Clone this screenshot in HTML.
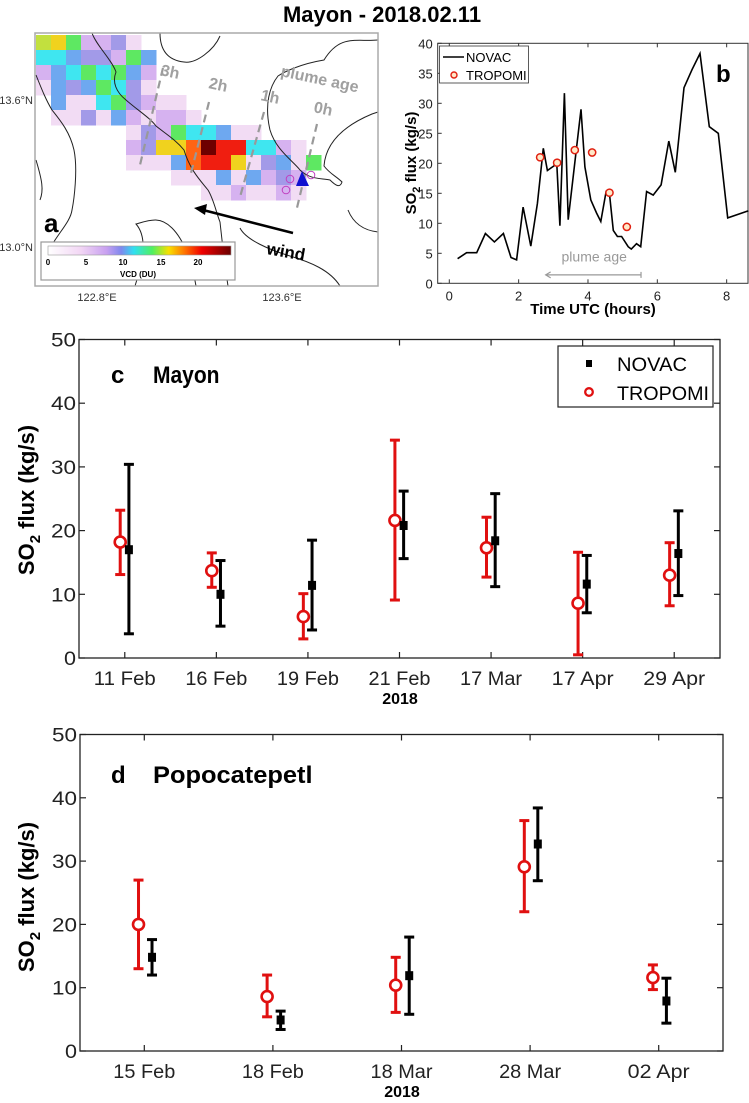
<!DOCTYPE html>
<html><head><meta charset="utf-8"><title>Mayon SO2 flux</title>
<style>
html,body{margin:0;padding:0;background:#fff;}
svg{display:block;font-family:"Liberation Sans",Arial,sans-serif;}
</style></head>
<body>
<svg id="fig" xmlns="http://www.w3.org/2000/svg" width="749" height="1103" viewBox="0 0 749 1103">
  <text x="382" y="22" text-anchor="middle" font-size="22" font-weight="bold">Mayon - 2018.02.11</text>

  <!-- Panel a map -->
  <g id="panelA">
    <rect x="35" y="33" width="343" height="253" fill="#fff"/>
    <g id="cells"></g>
    <g fill="none" stroke="#222" stroke-width="1">
      <path d="M92,33 C96,45 112,60 116,72 C112,82 116,92 126,100 C140,112 150,118 156,126 C166,134 176,140 184,150 C190,170 200,180 208,190 C214,200 216,212 220,222 C222,240 224,260 228,286"/>
      <path d="M36,75 C42,90 46,100 52,110 C60,120 70,132 74,150 C78,170 74,200 72,210 C70,225 50,240 46,260"/>
      <path d="M36,160 C42,180 44,190 40,200"/>
      <path d="M160,33 C160,48 166,60 184,62 C196,64 214,50 220,36"/>
      <path d="M378,40 C356,42 340,34 324,60 C300,64 284,72 278,76 C270,86 264,104 270,130 C276,150 292,160 300,170 C310,180 322,178 330,180 C336,186 340,188 342,182 C336,176 330,174 324,166 C326,140 348,124 372,114 L378,112"/>
      <path d="M135,286 C140,270 150,240 136,224 C150,220 160,216 172,228 C184,240 192,262 196,286"/>
      <path d="M240,228 C246,240 270,250 290,256 C310,262 330,270 340,286"/>
      <path d="M348,210 C352,220 360,230 378,232"/>
    </g>
    <g stroke="#999" stroke-width="2.2" stroke-dasharray="8,5" fill="none">
      <line x1="163" y1="68" x2="140" y2="165"/>
      <line x1="209" y1="102" x2="190" y2="177"/>
      <line x1="264" y1="112" x2="240" y2="197"/>
      <line x1="317" y1="124" x2="296" y2="212"/>
    </g>
    <g fill="#a0a0a0" font-weight="bold" font-size="16">
      <text x="160" y="75" transform="rotate(12 160 75)">3h</text>
      <text x="208" y="88" transform="rotate(12 208 88)">2h</text>
      <text x="260" y="100" transform="rotate(12 260 100)">1h</text>
      <text x="280" y="76" transform="rotate(12 280 76)">plume age</text>
      <text x="313" y="112" transform="rotate(12 313 112)">0h</text>
    </g>
    <g fill="none" stroke="#c040c0" stroke-width="1">
      <circle cx="290" cy="179" r="3.8"/><circle cx="311" cy="175" r="3.8"/><circle cx="286" cy="190" r="3.8"/>
    </g>
    <polygon points="302,171 296,186 309,186" fill="#1010d0"/>
    <line x1="293" y1="233" x2="203" y2="210" stroke="#000" stroke-width="2.5"/>
    <polygon points="194,208 207,204 205,215" fill="#000"/>
    <text x="266" y="254" font-size="17" font-weight="bold" transform="rotate(10 266 254)">wind</text>
    <text x="44" y="232" font-size="26" font-weight="bold">a</text>
    <g>
      <defs>
        <linearGradient id="jet" x1="0" x2="1" y1="0" y2="0">
          <stop offset="0" stop-color="#ffffff"/><stop offset="0.18" stop-color="#f2d6f4"/>
          <stop offset="0.32" stop-color="#c8a0f0"/><stop offset="0.4" stop-color="#7f88ee"/>
          <stop offset="0.47" stop-color="#30e0f0"/><stop offset="0.57" stop-color="#50f060"/>
          <stop offset="0.66" stop-color="#f8e000"/><stop offset="0.75" stop-color="#ff7000"/>
          <stop offset="0.84" stop-color="#f00000"/><stop offset="1" stop-color="#6a0000"/>
        </linearGradient>
      </defs>
      <rect x="41" y="242" width="194" height="38" fill="#fff" stroke="#999" stroke-width="1.2"/>
      <rect x="48" y="246" width="183" height="9" fill="url(#jet)" stroke="#999" stroke-width="0.6"/>
      <g font-size="8" font-weight="bold" text-anchor="middle">
        <text x="48" y="265">0</text><text x="86" y="265">5</text><text x="123" y="265">10</text><text x="161" y="265">15</text><text x="198" y="265">20</text>
        <text x="138" y="277">VCD (DU)</text>
      </g>
    </g>
    <rect x="35" y="33" width="343" height="253" fill="none" stroke="#aaa" stroke-width="1.5"/>
    <g font-size="11" fill="#333">
      <text x="33" y="104" text-anchor="end">13.6°N</text>
      <text x="33" y="251" text-anchor="end">13.0°N</text>
      <text x="97" y="301" text-anchor="middle">122.8°E</text>
      <text x="282" y="301" text-anchor="middle">123.6°E</text>
    </g>
  </g>

  <!-- Panel b -->
  <g id="panelB"></g>
  <!-- Panel c -->
  <g id="panelC"></g>
  <!-- Panel d -->
  <g id="panelD"></g>
</svg>
<script>
// ---------- Panel a pixel data ----------
const mapRows = [
  "Yygllvp...........",
  "ccbvvlgb..........",
  "lbcgcgbl..........",
  "pbvbgcvp..........",
  ".bppcgvlpp........",
  ".ppvpblpllp.......",
  "......pvlgccbpp...",
  "......lvyyodrrcclp",
  "......pppborrypvbpg",
  ".........pppbpblvl",
  "...........pplpplp"
];
const mapColors = {p:"#f2dcf4",l:"#d6b2f0",v:"#a29ae8",b:"#6ea8f0",c:"#3fe6f0",g:"#5ee862",y:"#f0d21e",Y:"#c2e03e",o:"#ff6414",r:"#f01e10",d:"#6e0000"};
// ---------- Panel b data ----------
const novacHours = [0.24,0.5,0.79,1.04,1.3,1.56,1.78,1.94,2.13,2.35,2.54,2.71,2.83,3.1,3.19,3.32,3.43,3.8,3.91,4.08,4.25,4.37,4.52,4.63,4.73,4.85,4.97,5.16,5.25,5.4,5.52,5.69,5.88,6.11,6.33,6.52,6.77,7.0,7.23,7.5,7.76,8.03,8.63];
const novacFlux = [4.1,5.1,5.1,8.3,6.9,8.3,4.3,3.9,12.7,6.2,13.3,22.5,18.8,19.9,9.6,31.7,10.6,29.0,19.4,13.9,11.7,10.3,15.2,14.4,8.8,7.8,7.8,6.1,5.7,6.6,6.1,15.3,14.7,16.4,23.7,18.5,32.6,35.6,38.3,26.1,25.0,10.9,12.1];
const tropHours = [2.62,3.11,3.62,4.12,4.62,5.12];
const tropFlux = [21.0,20.1,22.2,21.8,15.1,9.4];
const bXTicks = [0,2,4,6,8];
const bYTicks = [0,5,10,15,20,25,30,35,40];
// ---------- Panel c data ----------
const cCats = ["11 Feb","16 Feb","19 Feb","21 Feb","17 Mar","17 Apr","29 Apr"];
const cTrop = [18.2,13.7,6.5,21.6,17.3,8.6,13.0];
const cTropLo = [13.1,11.1,3.0,9.1,12.7,0.5,8.2];
const cTropHi = [23.2,16.5,10.1,34.2,22.1,16.6,18.1];
const cNov = [17.0,10.0,11.4,20.8,18.4,11.6,16.4];
const cNovLo = [3.8,5.0,4.4,15.6,11.2,7.1,9.8];
const cNovHi = [30.4,15.3,18.5,26.2,25.8,16.1,23.1];
// ---------- Panel d data ----------
const dCats = ["15 Feb","18 Feb","18 Mar","28 Mar","02 Apr"];
const dTrop = [20.0,8.6,10.4,29.1,11.6];
const dTropLo = [13.0,5.4,6.1,22.0,9.7];
const dTropHi = [27.0,12.0,14.8,36.4,13.6];
const dNov = [14.8,4.9,11.9,32.7,7.9];
const dNovLo = [12.0,3.4,5.8,26.9,4.4];
const dNovHi = [17.6,6.3,18.0,38.4,11.5];
const yTicks = [0,10,20,30,40,50];

const NS = "http://www.w3.org/2000/svg";
function mk(parent, tag, attrs, text) {
  const e = document.createElementNS(NS, tag);
  for (const k in attrs) e.setAttribute(k, attrs[k]);
  if (text !== undefined) e.textContent = text;
  parent.appendChild(e);
  return e;
}

// Panel a cells
(function(){
  const g = document.getElementById("cells");
  mapRows.forEach((row, r) => {
    for (let c = 0; c < row.length; c++) {
      const ch = row[c];
      if (!mapColors[ch]) continue;
      const x = 36 + c * 15, y = 35 + r * 15;
      if (x > 377) continue;
      const el = mk(g, "rect", {x: x, y: y, width: 15.5, height: 15.5, fill: mapColors[ch]});
      
      
    }
  });
})();

// Panel b
(function(){
  const g = document.getElementById("panelB");
  const L = 437.7, R = 748, T = 43.3, B = 283.3;
  const xB = h => 449.3 + h * 34.67;
  const yB = v => B - v * (B - T) / 40;
  const frame = mk(g, "rect", {x: L, y: T, width: R - L, height: B - T, fill: "#fff", stroke: "#333", "stroke-width": 1});
  
  
  bXTicks.forEach(t => {
    const x = xB(t);
    mk(g, "line", {x1: x, y1: B, x2: x, y2: B - 4, stroke: "#333"});
    mk(g, "line", {x1: x, y1: T, x2: x, y2: T + 4, stroke: "#333"});
    const tl = mk(g, "text", {x: x, y: B + 17, "font-size": 13, "text-anchor": "middle", fill: "#222"}, String(t));
    
    
  });
  bYTicks.forEach(t => {
    const y = yB(t);
    mk(g, "line", {x1: L, y1: y, x2: L + 4, y2: y, stroke: "#333"});
    const tl = mk(g, "text", {x: L - 5, y: y + 5, "font-size": 13, "text-anchor": "end", fill: "#222"}, String(t));
    
    
  });
  const pts = novacHours.map((h, i) => xB(h).toFixed(1) + "," + yB(novacFlux[i]).toFixed(1)).join(" ");
  const line = mk(g, "polyline", {points: pts, fill: "none", stroke: "#000", "stroke-width": 1.6});
  
  
  tropHours.forEach((h, i) => {
    const c = mk(g, "circle", {cx: xB(h), cy: yB(tropFlux[i]), r: 3.6, fill: "#ffe8c8", stroke: "#e02010", "stroke-width": 1.5});
    
    
  });
  // plume age arrow
  const ay = yB(1.4);
  const ar = mk(g, "line", {x1: xB(2.78), y1: ay, x2: xB(5.53), y2: ay, stroke: "#999", "stroke-width": 1.2});
  
  
  mk(g, "polyline", {points: (xB(2.78)+5)+","+(ay-3)+" "+xB(2.78)+","+ay+" "+(xB(2.78)+5)+","+(ay+3), fill: "none", stroke: "#999", "stroke-width": 1.2});
  mk(g, "line", {x1: xB(5.53), y1: ay - 3, x2: xB(5.53), y2: ay + 3, stroke: "#999", "stroke-width": 1.2});
  const pa = mk(g, "text", {x: xB(4.18), y: yB(3.6), "font-size": 14, "text-anchor": "middle", fill: "#999"}, "plume age");
  
  
  // legend
  const lg = mk(g, "g", {});
  
  
  mk(lg, "rect", {x: 439.5, y: 46, width: 89, height: 37, fill: "#fff", stroke: "#333", "stroke-width": 0.8});
  mk(lg, "line", {x1: 443, y1: 57, x2: 464, y2: 57, stroke: "#000", "stroke-width": 1.6});
  mk(lg, "text", {x: 466, y: 62, "font-size": 13}, "NOVAC");
  mk(lg, "circle", {cx: 454, cy: 75, r: 3, fill: "#ffe8c8", stroke: "#e02010", "stroke-width": 1.4});
  mk(lg, "text", {x: 466, y: 80, "font-size": 13}, "TROPOMI");
  const bl = mk(g, "text", {x: 716, y: 82, "font-size": 24, "font-weight": "bold"}, "b");
  
  
  const xt = mk(g, "text", {x: 593, y: 314, "font-size": 15, "font-weight": "bold", "text-anchor": "middle"}, "Time UTC (hours)");
  
  
  const yt = mk(g, "text", {x: 0, y: 0, "font-size": 15, "font-weight": "bold", "text-anchor": "middle", transform: "translate(416,163) rotate(-90)"});
  
  
  yt.innerHTML = 'SO<tspan font-size="11" dy="4">2</tspan><tspan dy="-4"> flux (kg/s)</tspan>';
})();

function errorPanel(gid, cats, trop, tropLo, tropHi, nov, novLo, novHi, L, R, y0, y50, offT, offN, labelLetter, labelName, letterX, titleY, hasLegend, yTitleY) {
  const g = document.getElementById(gid);
  const n = cats.length;
  const xS = i => L + (i + 0.5) * (R - L) / n;
  const yS = v => y0 - v * (y0 - y50) / 50;
  const fr = mk(g, "rect", {x: L, y: y50, width: R - L, height: y0 - y50, fill: "#fff", stroke: "#222", "stroke-width": 1.3});
  
  
  yTicks.forEach(t => {
    const y = yS(t);
    mk(g, "line", {x1: L, y1: y, x2: L + 6, y2: y, stroke: "#222", "stroke-width": 1.2});
    mk(g, "line", {x1: R, y1: y, x2: R - 6, y2: y, stroke: "#222", "stroke-width": 1.2});
    const tl = mk(g, "text", {x: L - 3, y: y + 7, "font-size": 19, "text-anchor": "end", fill: "#222", transform: "", "textLength": t >= 10 ? 25 : 12, lengthAdjust: "spacingAndGlyphs"}, String(t));
    
    
  });
  cats.forEach((c, i) => {
    const x = xS(i);
    mk(g, "line", {x1: x, y1: y0, x2: x, y2: y0 - 6, stroke: "#222", "stroke-width": 1.2});
    mk(g, "line", {x1: x, y1: y50, x2: x, y2: y50 + 6, stroke: "#222", "stroke-width": 1.2});
    const tl = mk(g, "text", {x: x, y: y0 + 27, "font-size": 19, "text-anchor": "middle", fill: "#222", textLength: 62, lengthAdjust: "spacingAndGlyphs"}, c);
    
    
  });
  const yr = mk(g, "text", {x: L + (R - L) / 2 + 0.5, y: y0 + 46, "font-size": 16, "font-weight": "bold", "text-anchor": "middle"}, "2018");
  
  
  function bar(x, lo, hi, col, nm) {
    const bg = mk(g, "g", {stroke: col, "stroke-width": 3, fill: "none"});
    
    
    mk(bg, "line", {x1: x, y1: yS(lo), x2: x, y2: yS(hi)});
    mk(bg, "line", {x1: x - 5, y1: yS(lo), x2: x + 5, y2: yS(lo)});
    mk(bg, "line", {x1: x - 5, y1: yS(hi), x2: x + 5, y2: yS(hi)});
  }
  cats.forEach((c, i) => {
    const xt = xS(i + offT), xn = xS(i + offN);
    bar(xt, tropLo[i], tropHi[i], "#e01010", "tropomi-error-bar");
    bar(xn, novLo[i], novHi[i], "#000", "novac-error-bar");
    const ci = mk(g, "circle", {cx: xt, cy: yS(trop[i]), r: 5.5, fill: "#fff", stroke: "#e01010", "stroke-width": 2.6});
    
    
    const sq = mk(g, "rect", {x: xn - 4, y: yS(nov[i]) - 4.5, width: 8, height: 9, fill: "#000"});
    
    
  });
  const t1 = mk(g, "text", {x: letterX, y: titleY, "font-size": 24, "font-weight": "bold"}, labelLetter);
  
  
  const t2 = mk(g, "text", {x: letterX + 42, y: titleY, "font-size": 24, "font-weight": "bold", textLength: labelName.length * 13.3, lengthAdjust: "spacingAndGlyphs"}, labelName);
  
  
  const yt = mk(g, "text", {x: 0, y: 0, "font-size": 22, "font-weight": "bold", "text-anchor": "middle", transform: "translate(34," + yTitleY + ") rotate(-90)"});
  
  
  yt.innerHTML = 'SO<tspan font-size="15" dy="6">2</tspan><tspan dy="-6"> flux (kg/s)</tspan>';
  if (hasLegend) {
    const lg = mk(g, "g", {});
    
    
    mk(lg, "rect", {x: 558, y: 346, width: 155, height: 61, fill: "#fff", stroke: "#222", "stroke-width": 1.2});
    mk(lg, "rect", {x: 586, y: 360, width: 6, height: 7, fill: "#000"});
    mk(lg, "text", {x: 617, y: 371, "font-size": 19, textLength: 70, lengthAdjust: "spacingAndGlyphs"}, "NOVAC");
    mk(lg, "circle", {cx: 589, cy: 392, r: 3.8, fill: "#fff", stroke: "#e01010", "stroke-width": 2.3});
    mk(lg, "text", {x: 617, y: 400, "font-size": 19, textLength: 92, lengthAdjust: "spacingAndGlyphs"}, "TROPOMI");
  }
}
errorPanel("panelC", cCats, cTrop, cTropLo, cTropHi, cNov, cNovLo, cNovHi, 79, 720, 658, 339.5, -0.05, 0.045, "c", "Mayon", 111, 383, true, 500);
errorPanel("panelD", dCats, dTrop, dTropLo, dTropHi, dNov, dNovLo, dNovHi, 80, 723, 1051, 734.5, -0.045, 0.06, "d", "Popocatepetl", 111, 783, false, 897);
</script>
</body></html>
